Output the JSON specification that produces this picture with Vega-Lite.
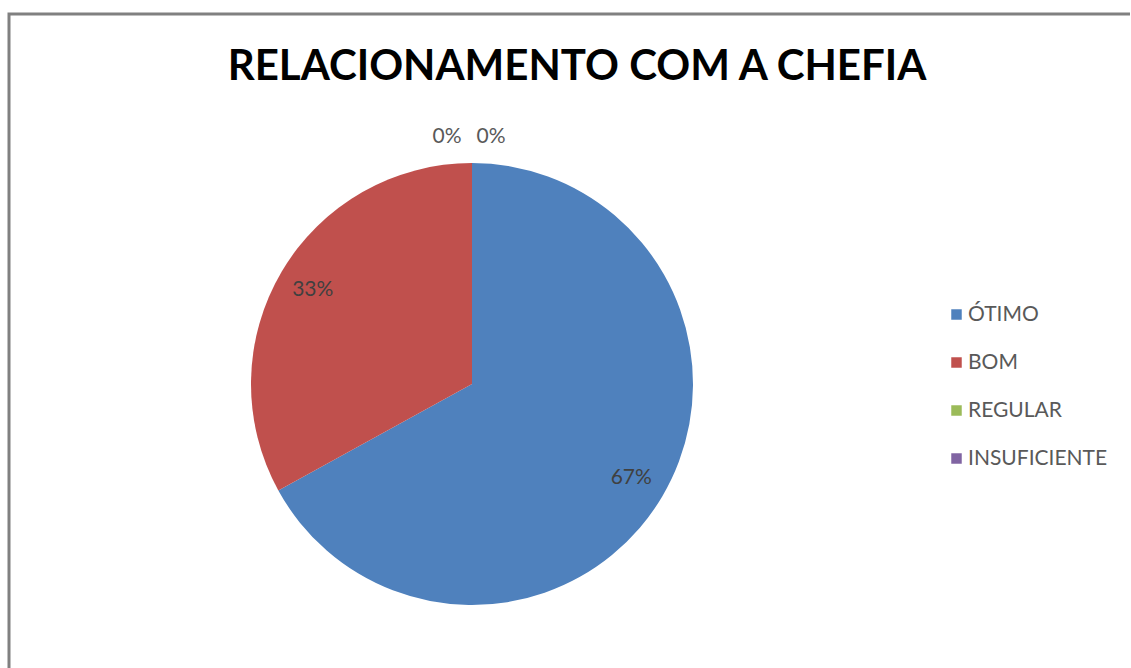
{
  "$schema": "https://vega.github.io/schema/vega-lite/v6.json",
  "padding": {"left": 7, "top": 12, "right": 0, "bottom": 0},
  "background": "white",
  "datasets": {
    "resp": [
      {"categoria": "ÓTIMO", "pct": 0.67, "ordem": 1},
      {"categoria": "BOM", "pct": 0.33, "ordem": 2},
      {"categoria": "REGULAR", "pct": 0, "ordem": 3},
      {"categoria": "INSUFICIENTE", "pct": 0, "ordem": 4}
    ],
    "vazio": []
  },
  "spacing": 0,
  "bounds": "flush",
  "hconcat": [
    {
      "width": 926,
      "height": 740,
      "title": {
        "text": "RELACIONAMENTO COM A CHEFIA",
        "font": "Lato",
        "fontSize": 42,
        "fontWeight": "bold",
        "color": "#000000",
        "anchor": "middle",
        "frame": "group",
        "orient": "top",
        "offset": 0,
        "baseline": "alphabetic",
        "dx": 105,
        "dy": 108
      },
      "view": {"stroke": "#808080", "strokeWidth": 3, "strokeDash": [926, 1666, 740], "fill": null},
      "data": {"name": "resp"},
      "encoding": {
        "theta": {"field": "pct", "type": "quantitative", "stack": true},
        "order": {"field": "ordem", "type": "quantitative"}
      },
      "layer": [
        {
          "mark": {"type": "arc", "radius": 221},
          "encoding": {
            "color": {
              "field": "categoria",
              "type": "nominal",
              "scale": {
                "domain": ["ÓTIMO", "BOM", "REGULAR", "INSUFICIENTE"],
                "range": ["#4F81BD", "#C0504D", "#9BBB59", "#8064A2"]
              },
              "legend": {
                "title": null,
                "orient": "none",
                "legendX": 937,
                "legendY": 290,
                "symbolType": "square",
                "symbolSize": 110,
                "symbolStrokeWidth": 0,
                "labelFont": "Lato",
                "labelFontSize": 21,
                "labelColor": "#595959",
                "labelOffset": 1,
                "rowPadding": 26,
                "padding": 0,
                "labelLimit": 300
              }
            }
          }
        },
        {
          "transform": [{"filter": "datum.pct > 0"}],
          "mark": {"type": "text", "radius": 185, "font": "Lato", "fontSize": 21, "color": "#404040"},
          "encoding": {"text": {"field": "pct", "type": "quantitative", "format": ".0%"}}
        },
        {
          "transform": [{"filter": "datum.categoria == 'REGULAR'"}],
          "mark": {"type": "text", "radius": 247, "dx": -25, "font": "Lato", "fontSize": 21, "color": "#595959"},
          "encoding": {"text": {"field": "pct", "type": "quantitative", "format": ".0%"}}
        },
        {
          "transform": [{"filter": "datum.categoria == 'INSUFICIENTE'"}],
          "mark": {"type": "text", "radius": 247, "dx": 19, "font": "Lato", "fontSize": 21, "color": "#595959"},
          "encoding": {"text": {"field": "pct", "type": "quantitative", "format": ".0%"}}
        }
      ]
    },
    {
      "width": 195,
      "height": 740,
      "view": {"stroke": "#808080", "strokeWidth": 3, "strokeDash": [195, 1690], "fill": null},
      "data": {"name": "vazio"},
      "mark": {"type": "text"},
      "encoding": {}
    }
  ]
}
